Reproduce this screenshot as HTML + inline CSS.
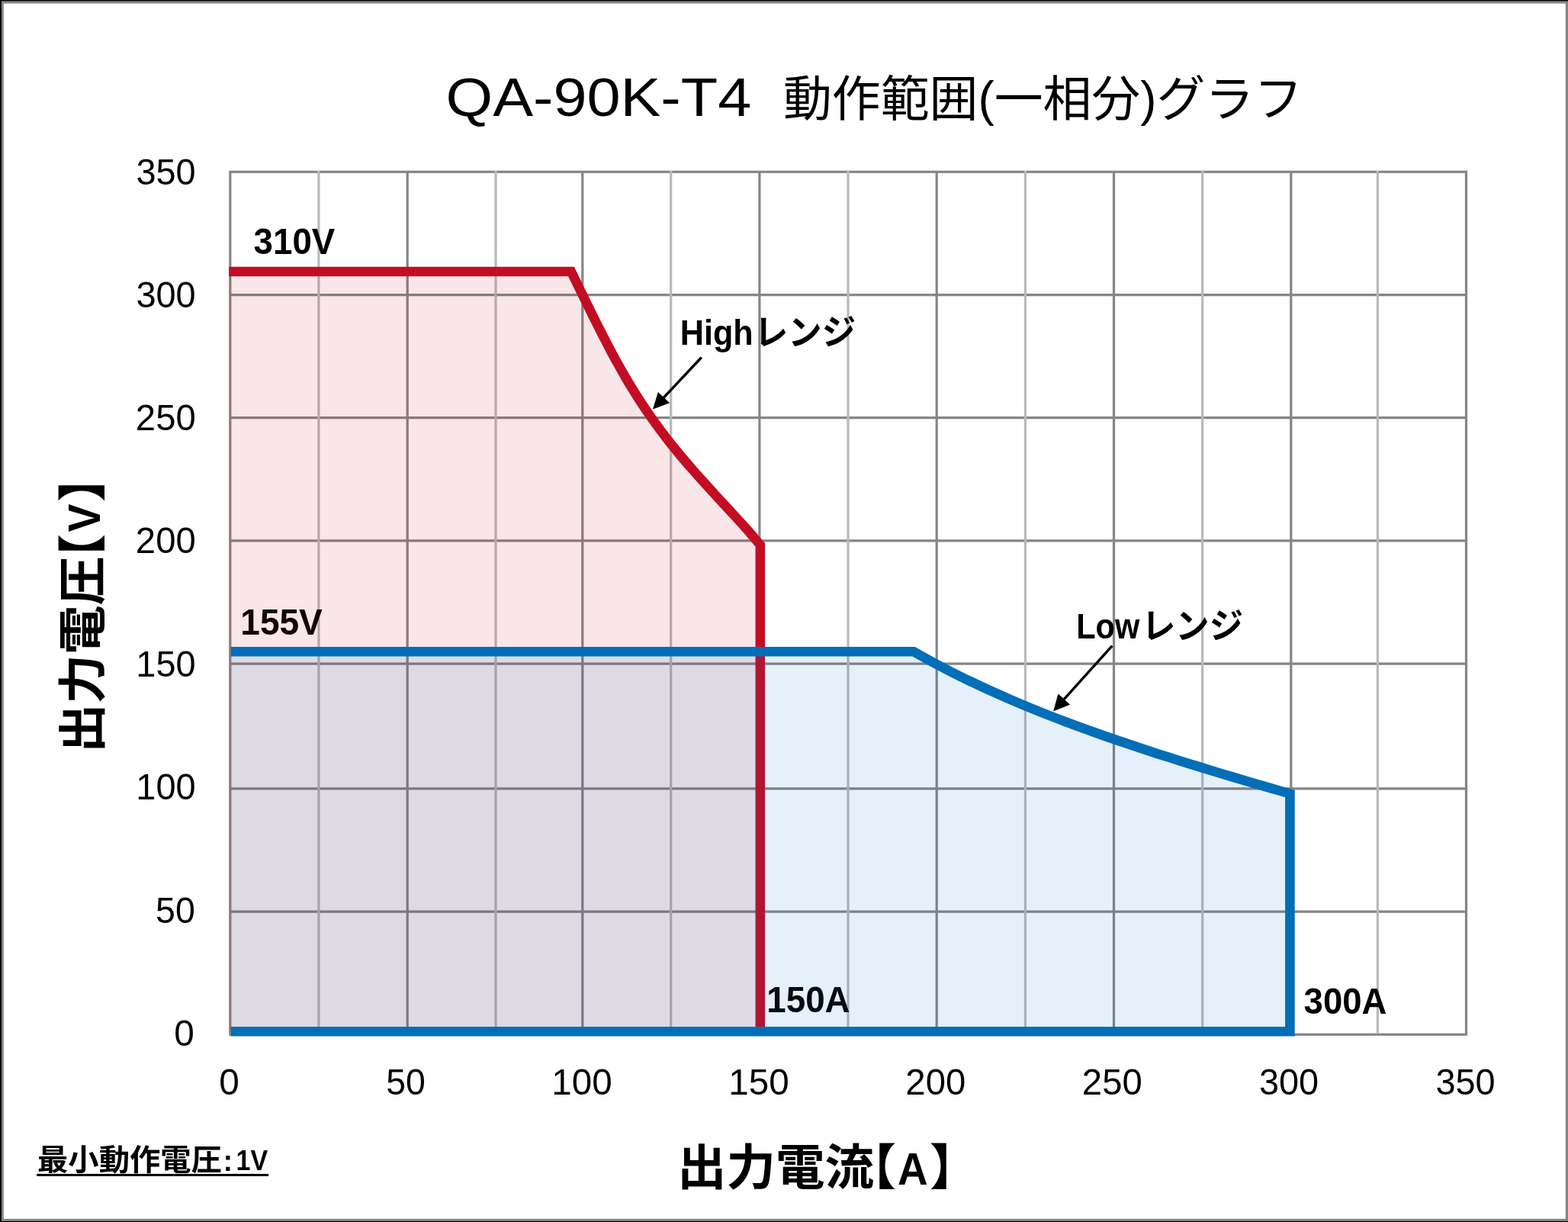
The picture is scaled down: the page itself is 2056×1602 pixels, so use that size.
<!DOCTYPE html>
<html lang="ja"><head><meta charset="utf-8"><title>QA-90K-T4 動作範囲(一相分)グラフ</title>
<style>
html,body{margin:0;padding:0;background:#fff}
body{width:2056px;height:1602px;overflow:hidden;position:relative;font-family:"Liberation Sans",sans-serif}
svg{position:absolute;left:0;top:0;display:block;will-change:transform}
text{font-family:"Liberation Sans",sans-serif;fill:#000}
.tk{font-size:47.4px}
.bl{font-size:47.4px;font-weight:bold}
.cjk{font-family:"Liberation Sans","Noto Sans CJK JP",sans-serif}
</style></head>
<body>
<svg width="2056" height="1602" viewBox="0 0 2056 1602" role="img" aria-label="QA-90K-T4 動作範囲(一相分)グラフ">
<g id="frame">
<rect x="0" y="0" width="2056" height="1602" fill="#fff"/>
<rect x="0" y="0" width="2056" height="4.6" fill="#868686"/><rect x="0" y="1597.8" width="2056" height="4.2" fill="#868686"/><rect x="0" y="0" width="4.8" height="1602" fill="#868686"/><rect x="2052.8" y="0" width="3.2" height="1602" fill="#868686"/>
<rect x="0" y="0" width="2056" height="1.4" fill="#000"/><rect x="0" y="0" width="1.9" height="1602" fill="#000"/><rect x="0" y="1600.9" width="2056" height="1.1" fill="#000"/>
</g>
<g id="grid" fill="none" stroke-width="3.2">
<line x1="301.8" y1="386.6" x2="1922.5" y2="386.6" stroke="#858585"/><line x1="301.8" y1="547.7" x2="1922.5" y2="547.7" stroke="#858585"/><line x1="301.8" y1="708.9" x2="1922.5" y2="708.9" stroke="#858585"/><line x1="301.8" y1="870.1" x2="1922.5" y2="870.1" stroke="#858585"/><line x1="301.8" y1="1033.8" x2="1922.5" y2="1033.8" stroke="#858585"/><line x1="301.8" y1="1195.2" x2="1922.5" y2="1195.2" stroke="#858585"/>
<rect x="301.8" y="225.3" width="1620.7" height="1130.9" stroke="#858585"/>
<line x1="534.2" y1="225.3" x2="534.2" y2="1356.2" stroke="#858585"/><line x1="763.8" y1="225.3" x2="763.8" y2="1356.2" stroke="#858585"/><line x1="995.9" y1="225.3" x2="995.9" y2="1356.2" stroke="#858585"/><line x1="1228.2" y1="225.3" x2="1228.2" y2="1356.2" stroke="#858585"/><line x1="1460.5" y1="225.3" x2="1460.5" y2="1356.2" stroke="#858585"/><line x1="1692.8" y1="225.3" x2="1692.8" y2="1356.2" stroke="#858585"/>
<line x1="417.9" y1="224.1" x2="417.9" y2="1354.6" stroke="#b9b9b9"/><line x1="650" y1="224.1" x2="650" y2="1354.6" stroke="#b9b9b9"/><line x1="879.7" y1="224.1" x2="879.7" y2="1354.6" stroke="#b9b9b9"/><line x1="1112" y1="224.1" x2="1112" y2="1354.6" stroke="#b9b9b9"/><line x1="1344.4" y1="224.1" x2="1344.4" y2="1354.6" stroke="#b9b9b9"/><line x1="1576.7" y1="224.1" x2="1576.7" y2="1354.6" stroke="#b9b9b9"/><line x1="1806.4" y1="224.1" x2="1806.4" y2="1354.6" stroke="#b9b9b9"/>
</g>
<g id="yticks">
<text class="tk" x="178.46" y="241.5" textLength="78.22" lengthAdjust="spacingAndGlyphs">350</text><text class="tk" x="178.46" y="402.7" textLength="78.22" lengthAdjust="spacingAndGlyphs">300</text><text class="tk" x="177.87" y="564" textLength="78.82" lengthAdjust="spacingAndGlyphs">250</text><text class="tk" x="177.87" y="725.2" textLength="78.82" lengthAdjust="spacingAndGlyphs">200</text><text class="tk" x="178.37" y="886.5" textLength="78.31" lengthAdjust="spacingAndGlyphs">150</text><text class="tk" x="178.37" y="1047.7" textLength="78.31" lengthAdjust="spacingAndGlyphs">100</text><text class="tk" x="204.09" y="1209.8" textLength="51.67" lengthAdjust="spacingAndGlyphs">50</text><text class="tk" x="228.19" y="1370.6" textLength="26.53" lengthAdjust="spacingAndGlyphs">0</text>
</g>
<g id="xticks">
<text class="tk" x="287.39" y="1435" textLength="26.53" lengthAdjust="spacingAndGlyphs">0</text><text class="tk" x="506.29" y="1435" textLength="51.67" lengthAdjust="spacingAndGlyphs">50</text><text class="tk" x="723.23" y="1435" textLength="79.38" lengthAdjust="spacingAndGlyphs">100</text><text class="tk" x="955.23" y="1435" textLength="79.38" lengthAdjust="spacingAndGlyphs">150</text><text class="tk" x="1187.37" y="1435" textLength="78.82" lengthAdjust="spacingAndGlyphs">200</text><text class="tk" x="1418.87" y="1435" textLength="78.82" lengthAdjust="spacingAndGlyphs">250</text><text class="tk" x="1650.96" y="1435" textLength="78.22" lengthAdjust="spacingAndGlyphs">300</text><text class="tk" x="1882.46" y="1435" textLength="78.22" lengthAdjust="spacingAndGlyphs">350</text>
</g>
<g id="under-labels">
<text class="bl" x="315.3" y="831.5" textLength="107.5" lengthAdjust="spacingAndGlyphs">155V</text>
<text class="bl" x="1005.3" y="1326.6" textLength="109.3" lengthAdjust="spacingAndGlyphs">150A</text>
</g>
<g id="high-range">
<path d="M300.2 356.1 L749 356.1 C750.6 359.5 755.5 369.4 758.7 376.1 C761.9 382.7 765.2 389.3 768.5 396 C771.7 402.6 775 409.2 778.3 415.9 C781.6 422.5 784.9 429.1 788.3 435.8 C791.7 442.4 795.1 449 798.6 455.7 C802.1 462.3 805.6 468.9 809.3 475.6 C813 482.2 816.7 488.8 820.6 495.5 C824.5 502.1 828.5 508.7 832.7 515.4 C836.8 522 841.1 528.6 845.6 535.3 C850.1 541.9 854.7 548.5 859.5 555.2 C864.3 561.8 869.3 568.4 874.4 575.1 C879.6 581.7 885 588.3 890.4 595 C895.9 601.6 901.6 608.3 907.4 614.9 C913.2 621.5 919.2 628.2 925.2 634.8 C931.2 641.4 937.3 648.1 943.4 654.7 C949.5 661.3 955.8 668 961.8 674.6 C967.9 681.2 974 687.9 979.9 694.5 C985.7 701.1 994 711.1 996.8 714.4 L996.8 1352.3 L300.2 1352.3 Z" fill="#c30d23" fill-opacity="0.1"/>
<path d="M300.2 356.1 L749 356.1 C750.6 359.5 755.5 369.4 758.7 376.1 C761.9 382.7 765.2 389.3 768.5 396 C771.7 402.6 775 409.2 778.3 415.9 C781.6 422.5 784.9 429.1 788.3 435.8 C791.7 442.4 795.1 449 798.6 455.7 C802.1 462.3 805.6 468.9 809.3 475.6 C813 482.2 816.7 488.8 820.6 495.5 C824.5 502.1 828.5 508.7 832.7 515.4 C836.8 522 841.1 528.6 845.6 535.3 C850.1 541.9 854.7 548.5 859.5 555.2 C864.3 561.8 869.3 568.4 874.4 575.1 C879.6 581.7 885 588.3 890.4 595 C895.9 601.6 901.6 608.3 907.4 614.9 C913.2 621.5 919.2 628.2 925.2 634.8 C931.2 641.4 937.3 648.1 943.4 654.7 C949.5 661.3 955.8 668 961.8 674.6 C967.9 681.2 974 687.9 979.9 694.5 C985.7 701.1 994 711.1 996.8 714.4 L996.8 1352.3" fill="none" stroke="#c30d23" stroke-width="12.5" stroke-linejoin="miter" stroke-miterlimit="8"/>
</g>
<g id="low-range">
<path d="M302.8 854.3 L1198 854.3 C1202.1 856.6 1214.4 863.5 1222.7 868 C1230.9 872.4 1239.1 876.7 1247.3 880.8 C1255.6 885 1263.8 889.1 1272 893 C1280.2 897 1288.5 900.8 1296.7 904.6 C1304.9 908.3 1313.1 912 1321.3 915.5 C1329.6 919.1 1337.8 922.6 1346 926 C1354.2 929.4 1362.5 932.7 1370.7 936 C1378.9 939.2 1387.1 942.4 1395.4 945.5 C1403.6 948.6 1411.8 951.7 1420 954.7 C1428.3 957.7 1436.5 960.6 1444.7 963.5 C1452.9 966.4 1461.1 969.2 1469.4 972 C1477.6 974.8 1485.8 977.6 1494 980.3 C1502.3 983 1510.5 985.7 1518.7 988.4 C1526.9 991 1535.2 993.6 1543.4 996.2 C1551.6 998.8 1559.8 1001.4 1568.1 1003.9 C1576.3 1006.5 1584.5 1009 1592.7 1011.5 C1600.9 1014 1609.2 1016.4 1617.4 1018.9 C1625.6 1021.3 1633.8 1023.8 1642.1 1026.2 C1650.3 1028.6 1658.5 1031 1666.7 1033.4 C1675 1035.8 1687.3 1039.3 1691.4 1040.5 L1691.4 1352.3 L302.8 1352.3 Z" fill="#036eb8" fill-opacity="0.1"/>
<path d="M302.8 854.3 L1198 854.3 C1202.1 856.6 1214.4 863.5 1222.7 868 C1230.9 872.4 1239.1 876.7 1247.3 880.8 C1255.6 885 1263.8 889.1 1272 893 C1280.2 897 1288.5 900.8 1296.7 904.6 C1304.9 908.3 1313.1 912 1321.3 915.5 C1329.6 919.1 1337.8 922.6 1346 926 C1354.2 929.4 1362.5 932.7 1370.7 936 C1378.9 939.2 1387.1 942.4 1395.4 945.5 C1403.6 948.6 1411.8 951.7 1420 954.7 C1428.3 957.7 1436.5 960.6 1444.7 963.5 C1452.9 966.4 1461.1 969.2 1469.4 972 C1477.6 974.8 1485.8 977.6 1494 980.3 C1502.3 983 1510.5 985.7 1518.7 988.4 C1526.9 991 1535.2 993.6 1543.4 996.2 C1551.6 998.8 1559.8 1001.4 1568.1 1003.9 C1576.3 1006.5 1584.5 1009 1592.7 1011.5 C1600.9 1014 1609.2 1016.4 1617.4 1018.9 C1625.6 1021.3 1633.8 1023.8 1642.1 1026.2 C1650.3 1028.6 1658.5 1031 1666.7 1033.4 C1675 1035.8 1687.3 1039.3 1691.4 1040.5 L1691.4 1352.3 L302.8 1352.3" fill="none" stroke="#036eb8" stroke-width="12.6" stroke-linejoin="miter" stroke-miterlimit="8"/>
</g>
<g id="labels">
<text class="bl" x="332.6" y="333.2" textLength="106.7" lengthAdjust="spacingAndGlyphs">310V</text>
<text class="bl" x="1709.6" y="1328.7" textLength="108.9" lengthAdjust="spacingAndGlyphs">300A</text>
<text x="891.75" y="451.7" font-size="46.3" font-weight="bold" textLength="95.9" lengthAdjust="spacingAndGlyphs">High</text>
<text x="1411.2" y="837.0" font-size="46.3" font-weight="bold" textLength="83.1" lengthAdjust="spacingAndGlyphs">Low</text>
</g>
<g id="arrows">
<line x1="919.8" y1="468.5" x2="869.1" y2="522.5" stroke="#000" stroke-width="3.4"/><polygon points="856,536.5 862.8,513.9 878.2,528.2" fill="#000"/>
<line x1="1458.3" y1="846.6" x2="1393.9" y2="918.1" stroke="#000" stroke-width="3.4"/><polygon points="1381.1,932.4 1387.5,909.6 1403.1,923.7" fill="#000"/>
</g>
<g id="title" aria-label="QA-90K-T4  動作範囲(一相分)グラフ"><title>QA-90K-T4  動作範囲(一相分)グラフ</title>
<text class="cjk" x="584.6" y="152.3" font-size="70" textLength="400.6" lengthAdjust="spacingAndGlyphs">QA-90K-T4</text>
<text class="cjk" x="1027" y="151.5" font-size="64" textLength="681" lengthAdjust="spacingAndGlyphs">動作範囲(一相分)グラフ</text>
</g>
<g id="high-kana" aria-label="レンジ"><title>Highレンジ</title>
<text class="cjk" x="989" y="451.7" font-size="46.3" font-weight="bold" textLength="133" lengthAdjust="spacingAndGlyphs">レンジ</text>
</g>
<g id="low-kana" aria-label="レンジ"><title>Lowレンジ</title>
<text class="cjk" x="1497" y="837.0" font-size="46.3" font-weight="bold" textLength="133" lengthAdjust="spacingAndGlyphs">レンジ</text>
</g>
<g id="x-title" aria-label="出力電流【A】"><title>出力電流【A】</title>
<text class="cjk" x="888" y="1552.5" font-size="64" font-weight="bold" textLength="258" lengthAdjust="spacingAndGlyphs">出力電流</text>
<text class="cjk" x="1175" y="1552.5" font-size="64" font-weight="bold" text-anchor="end">【</text>
<text x="1177.0" y="1552.9" font-size="58.4" font-weight="bold" textLength="39.6" lengthAdjust="spacingAndGlyphs">A</text>
<text class="cjk" x="1219" y="1552.5" font-size="64" font-weight="bold">】</text>
</g>
<g id="y-title" transform="rotate(-90)" aria-label="出力電圧【V】"><title>出力電圧【V】</title>
<text class="cjk" x="-987" y="130.5" font-size="64" font-weight="bold" textLength="258" lengthAdjust="spacingAndGlyphs">出力電圧</text>
<text class="cjk" x="-700" y="130.5" font-size="64" font-weight="bold" text-anchor="end">【</text>
<text x="-697.6" y="131.0" font-size="58.4" font-weight="bold" textLength="36.9" lengthAdjust="spacingAndGlyphs">V</text>
<text class="cjk" x="-658" y="130.5" font-size="64" font-weight="bold">】</text>
</g>
<g id="note" aria-label="最小動作電圧: 1V"><title>最小動作電圧: 1V</title>
<text class="cjk" x="49" y="1534" font-size="39" font-weight="bold" textLength="242" lengthAdjust="spacingAndGlyphs">最小動作電圧</text>
<text x="292.7" y="1535.0" font-size="38.6" font-weight="bold" textLength="12.2" lengthAdjust="spacingAndGlyphs">:</text>
<text x="309.6" y="1533.9" font-size="36.8" font-weight="bold" textLength="41.7" lengthAdjust="spacingAndGlyphs">1V</text>
<rect x="48.2" y="1538.9" width="303.9" height="3.0" fill="#000"/>
</g>
</svg>
</body></html>
